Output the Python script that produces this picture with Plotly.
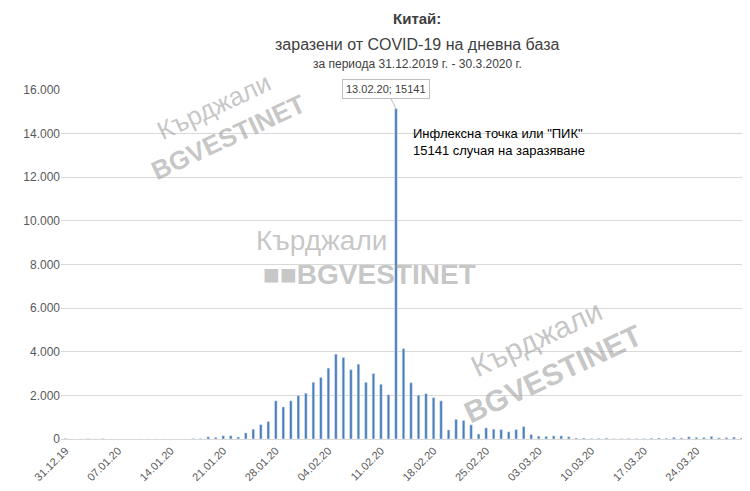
import pandas as pd
import plotly.graph_objects as go

# daily new cases, 31.12.2019 - 30.03.2020
dates = pd.date_range("2019-12-31", "2020-03-30", freq="D")
cases = [27, 0, 0, 17, 0, 15, 0, 0, 0, 0, 0, 0, 0, 0, 0, 0, 0,
         20, 20, 100, 77, 150, 150, 90, 280, 450, 660, 800,
         1750, 1470, 1750, 2000, 2100, 2600, 2820, 3250, 3890, 3740, 3180, 3430,
         2600, 3000, 2510, 2030, 15141, 4150, 2580, 2010, 2080, 1900, 1750,
         415, 900, 850, 650, 230, 510, 450, 430, 330, 430, 570,
         206, 130, 120, 143, 146, 102, 46, 45, 20, 29, 44, 11, 19, 25, 21, 20,
         39, 46, 39, 78, 47, 103, 78, 70, 121, 52, 66, 87, 45]
labels = [d.strftime("%d.%m.%y") for d in dates]
tick_labels = labels[::7]
y_ticks = [0, 2000, 4000, 6000, 8000, 10000, 12000, 14000, 16000]
y_text = ["0", "2.000", "4.000", "6.000", "8.000", "10.000", "12.000", "14.000", "16.000"]

fig = go.Figure(go.Bar(x=labels, y=cases, marker_color="#4a7ebb", width=0.35))

wm = dict(showarrow=False, font=dict(family="Liberation Sans", color="rgba(150,150,150,0.55)"))
ttl = dict(xref="paper", yref="paper", x=0.52, yanchor="middle", showarrow=False)
fig.update_layout(
    width=750, height=491,
    margin=dict(l=53, r=12, t=82, b=60),
    paper_bgcolor="white", plot_bgcolor="white",
    showlegend=False,
    font=dict(family="Liberation Sans Narrow, Liberation Sans", color="#595959", size=12),
    xaxis=dict(type="category", tickvals=tick_labels, ticktext=tick_labels, tickangle=-45,
               showline=True, linecolor="#d9d9d9", tickfont=dict(size=11, color="#595959"),
               range=[-0.6, len(labels) - 0.4]),
    yaxis=dict(range=[0, 16000], tickvals=y_ticks, ticktext=y_text, gridcolor="#d9d9d9",
               zeroline=False, tickfont=dict(size=12, color="#595959")),
    annotations=[
        dict(ttl, text="<b>Китай:</b>", y=1.205, font=dict(size=15, color="#404040")),
        dict(ttl, text="заразени от COVID-19 на дневна база", y=1.13, font=dict(size=16, color="#404040")),
        dict(ttl, text="за периода 31.12.2019 г. - 30.3.2020 г.", y=1.075, font=dict(size=12, color="#404040")),
        dict(text="13.02.20; 15141", x="13.02.20", y=15141, ax=-10, ay=-20, showarrow=True,
             arrowhead=0, arrowcolor="#bfbfbf", bordercolor="#bfbfbf", borderwidth=1, borderpad=3,
             bgcolor="white", font=dict(size=11, color="#404040")),
        dict(text="Инфлексна точка или \"ПИК\"<br>15141 случая на заразяване", x="15.02.20", y=13600,
             xanchor="left", showarrow=False, align="left", font=dict(size=13, color="black")),
        dict(wm, text="Кърджали", x=0.38, y=0.57, xref="paper", yref="paper", font=dict(wm["font"], size=28)),
        dict(wm, text="<b>■■BGVESTINET</b>", x=0.45, y=0.47, xref="paper", yref="paper", font=dict(wm["font"], size=28)),
        dict(wm, text="Кърджали<br><b>BGVESTINET</b>", x=0.1, y=1.1, xref="paper", yref="paper",
             textangle=-25, font=dict(wm["font"], size=26)),
        dict(wm, text="Кърджали<br><b>BGVESTINET</b>", x=0.86, y=0.02, xref="paper", yref="paper",
             textangle=-25, font=dict(wm["font"], size=30)),
    ],
)
fig.write_html("out.html")
